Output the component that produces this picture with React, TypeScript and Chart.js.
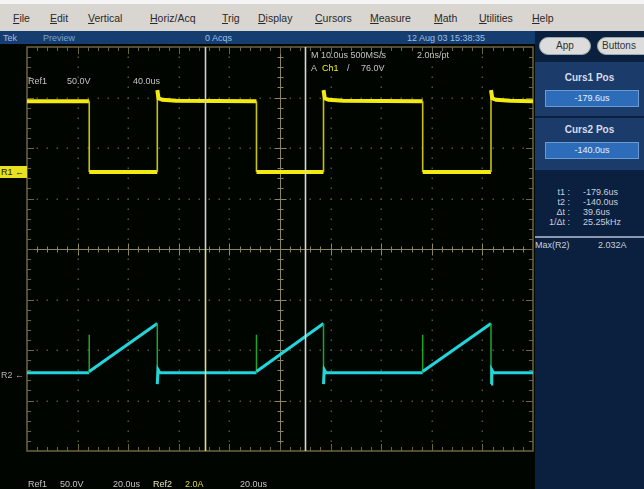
import React, { useEffect, useRef } from "react";
import { Chart, registerables } from "chart.js";

Chart.register(...registerables);

// ---- Data (physical units) ----
// Ref1: switching voltage (V), 50.0 V/div
const ref1Time = [-250, -225.4, -225.4, -198.5, -198.5, -198.0, -196.5, -191, -159.3, -159.3, -132.8, -132.8, -132.3, -130.8, -125, -93.6, -93.6, -66.6, -66.6, -66.1, -64.6, -59, -50];
const ref1Volts = [70, 70, 0, 0, 81, 73, 71.5, 70.5, 70, 0, 0, 81, 73, 71.5, 70.5, 70, 0, 0, 81, 73, 71.5, 70.5, 70];
// Ref2: inductor current (A), 2.0 A/div
const ref2Time = [-250, -225.4, -225.4, -225.4, -198.5, -198.5, -198.2, -197.5, -159.3, -159.3, -159.3, -132.8, -132.8, -132.5, -131.8, -93.6, -93.6, -93.6, -66.6, -66.6, -66.3, -65.6, -50];
const ref2Amps = [0, 0, 1.5, 0.05, 1.95, -0.45, 0.12, 0, 0, 1.5, 0.05, 1.95, -0.45, 0.12, 0, 0, 1.5, 0.05, 1.95, -0.45, 0.12, 0, 0];
// Cursor positions (us)
const cursorTimes = [-179.6, -140.0];
// Scale settings
const ref1VoltsPerDiv = 50;
const ref1OffsetDiv = 1.525;
const ref2AmpsPerDiv = 2;
const ref2OffsetDiv = -2.45;
const xMin = -250;
const xMax = -50;
const xDiv = 20;

const menuItems = ["File", "Edit", "Vertical", "Horiz/Acq", "Trig", "Display", "Cursors", "Measure", "Math", "Utilities", "Help"];
const menuX = [13, 50, 88, 150, 222, 258, 315, 370, 434, 479, 532];
const measLabels = ["t1", "t2", "\u0394t", "1/\u0394t"];
const measValues = ["-179.6us", "-140.0us", "39.6us", "25.25kHz"];

const YELLOW = "#f2ea10";
const CYAN = "#22d4dc";

const graticulePlugin = {
  id: "graticule",
  beforeDraw(chart: any) {
    const c = chart.ctx;
    c.save();
    c.fillStyle = "#000500";
    c.fillRect(0, 0, chart.width, chart.height);
    c.restore();
  },
  beforeDatasetsDraw(chart: any) {
    const c = chart.ctx;
    const xs = chart.scales.x;
    const ys = chart.scales.y;
    const L = xs.getPixelForValue(xMin);
    const R = xs.getPixelForValue(xMax);
    const T = ys.getPixelForValue(4);
    const B = ys.getPixelForValue(-4);
    c.save();
    c.fillStyle = "#56523a";
    for (let i = 1; i < 10; i++) {
      if (i === 5) continue;
      const x = Math.round(xs.getPixelForValue(xMin + i * xDiv));
      for (let k = 1; k < 40; k++) {
        const y = Math.round(ys.getPixelForValue(4 - k * 0.2));
        c.fillRect(x - 0.5, y - 0.5, 1.5, 1.5);
      }
    }
    for (let j = 1; j < 8; j++) {
      if (j === 4) continue;
      const y = Math.round(ys.getPixelForValue(-4 + j));
      for (let k = 1; k < 50; k++) {
        const x = Math.round(xs.getPixelForValue(xMin + k * xDiv / 5));
        c.fillRect(x - 0.5, y - 0.5, 1.5, 1.5);
      }
    }
    const cx = Math.round(xs.getPixelForValue((xMin + xMax) / 2)) + 0.5;
    const cy = Math.round(ys.getPixelForValue(0)) + 0.5;
    c.strokeStyle = "#8c8462";
    c.lineWidth = 1;
    c.beginPath();
    c.moveTo(L, cy); c.lineTo(R, cy);
    c.moveTo(cx, T); c.lineTo(cx, B);
    for (let k = 1; k < 50; k++) {
      const x = Math.round(xs.getPixelForValue(xMin + k * xDiv / 5)) + 0.5;
      const len = k % 5 === 0 ? 6 : 3;
      c.moveTo(x, cy - len); c.lineTo(x, cy + len);
    }
    for (let k = 1; k < 40; k++) {
      const y = Math.round(ys.getPixelForValue(4 - k * 0.2)) + 0.5;
      const len = k % 5 === 0 ? 6 : 3;
      c.moveTo(cx - len, y); c.lineTo(cx + len, y);
    }
    c.stroke();
    c.strokeStyle = "#6e6440";
    c.lineWidth = 1.5;
    c.strokeRect(L, T, R - L, B - T);
    c.lineWidth = 1;
    c.beginPath();
    for (let k = 1; k < 50; k++) {
      const x = Math.round(xs.getPixelForValue(xMin + k * xDiv / 5)) + 0.5;
      const len = k % 5 === 0 ? 7 : 4;
      c.moveTo(x, T); c.lineTo(x, T + len);
      c.moveTo(x, B); c.lineTo(x, B - len);
    }
    for (let k = 1; k < 40; k++) {
      const y = Math.round(ys.getPixelForValue(4 - k * 0.2)) + 0.5;
      const len = k % 5 === 0 ? 7 : 4;
      c.moveTo(L, y); c.lineTo(L + len, y);
      c.moveTo(R, y); c.lineTo(R - len, y);
    }
    c.stroke();
    c.restore();
  },
  afterDatasetsDraw(chart: any) {
    const c = chart.ctx;
    const xs = chart.scales.x;
    const ys = chart.scales.y;
    const T = ys.getPixelForValue(4);
    const B = ys.getPixelForValue(-4);
    const M = ys.getPixelForValue(0);
    c.save();
    c.lineWidth = 1.6;
    const x1 = Math.round(xs.getPixelForValue(cursorTimes[0])) + 0.5;
    c.strokeStyle = "#cfcfcf";
    c.beginPath(); c.moveTo(x1, T); c.lineTo(x1, M); c.stroke();
    c.strokeStyle = "#e6dc8a";
    c.beginPath(); c.moveTo(x1, M); c.lineTo(x1, B); c.stroke();
    const x2 = Math.round(xs.getPixelForValue(cursorTimes[1])) + 0.5;
    c.strokeStyle = "#d8d8d8";
    c.beginPath(); c.moveTo(x2, T); c.lineTo(x2, B); c.stroke();
    c.restore();
  },
};

function ScopeChart() {
  const ref = useRef<HTMLCanvasElement>(null);
  useEffect(() => {
    if (!ref.current) return;
    const ref1Data = ref1Time.map((t, i) => ({ x: t, y: ref1Volts[i] / ref1VoltsPerDiv + ref1OffsetDiv }));
    const ref2Data = ref2Time.map((t, i) => ({ x: t, y: ref2Amps[i] / ref2AmpsPerDiv + ref2OffsetDiv }));
    const isVert = (ctx: any) => Math.abs(ctx.p0.x - ctx.p1.x) < 0.6;
    const chart = new Chart(ref.current, {
      type: "line",
      data: {
        datasets: [
          {
            label: "Ref1",
            data: ref1Data,
            borderColor: YELLOW,
            borderWidth: 4,
            pointRadius: 0,
            tension: 0,
            segment: {
              borderColor: (ctx: any) => (isVert(ctx) ? "#c8c20a" : YELLOW),
              borderWidth: (ctx: any) => (isVert(ctx) ? 1.6 : 4),
            },
          },
          {
            label: "Ref2",
            data: ref2Data,
            borderColor: CYAN,
            borderWidth: 3,
            pointRadius: 0,
            tension: 0,
            segment: {
              borderColor: (ctx: any) => (isVert(ctx) ? "#1fa52c" : CYAN),
              borderWidth: (ctx: any) => (isVert(ctx) ? 1.5 : 3),
            },
          },
        ],
      },
      options: {
        animation: false,
        responsive: false,
        maintainAspectRatio: false,
        layout: { padding: { left: 27, top: 3, right: 2, bottom: 38 } },
        scales: {
          x: { type: "linear", min: xMin, max: xMax, display: false },
          y: { type: "linear", min: -4, max: 4, display: false },
        },
        plugins: { legend: { display: false }, tooltip: { enabled: false } },
      },
      plugins: [graticulePlugin],
    });
    return () => chart.destroy();
  }, []);
  return <canvas ref={ref} width={535} height={445} style={{ position: "absolute", left: 0, top: 44, width: 535, height: 445 }} />;
}

const abs = (left: number, top: number, extra: React.CSSProperties = {}): React.CSSProperties => ({
  position: "absolute",
  left,
  top,
  whiteSpace: "nowrap",
  ...extra,
});

export default function App() {
  const scopeFont: React.CSSProperties = { fontFamily: "'Liberation Sans', Arial, sans-serif", fontSize: 9, lineHeight: "10px", color: "#c4c4c4" };
  return (
    <div style={{ position: "fixed", left: 0, top: 0, width: 644, height: 489, overflow: "hidden", background: "#000500", fontFamily: "'Liberation Sans', Arial, sans-serif" }}>
      <div style={abs(0, 0, { width: 644, height: 31, background: "#d9d5d0", borderTop: "4px solid #f4f4f4", boxSizing: "border-box" })} />
      {menuItems.map((m, i) => (
        <span key={m} style={abs(menuX[i], 12, { fontSize: 10.5, lineHeight: "12px", color: "#2a2a2a" })}>
          <u>{m[0]}</u>{m.slice(1)}
        </span>
      ))}
      <div style={abs(0, 31, { width: 535, height: 13, background: "#163d6f" })} />
      <span style={abs(3, 33, { fontSize: 9, lineHeight: "10px", color: "#9fc0e6" })}>Tek</span>
      <span style={abs(43, 33, { fontSize: 9, lineHeight: "10px", color: "#7fa4d2" })}>Preview</span>
      <span style={abs(205, 33, { fontSize: 9, lineHeight: "10px", color: "#9fc0e6" })}>0 Acqs</span>
      <span style={abs(407, 33, { fontSize: 9, lineHeight: "10px", color: "#9fc0e6" })}>12 Aug 03 15:38:35</span>

      <ScopeChart />

      <span style={abs(28, 76, scopeFont)}>Ref1</span>
      <span style={abs(67, 76, scopeFont)}>50.0V</span>
      <span style={abs(133, 76, scopeFont)}>40.0us</span>
      <span style={abs(311, 50, scopeFont)}>M 10.0us 500MS/s</span>
      <span style={abs(417, 50, scopeFont)}>2.0ns/pt</span>
      <span style={abs(311, 63, scopeFont)}>A</span>
      <span style={abs(322, 63, { ...scopeFont, color: YELLOW })}>Ch1</span>
      <span style={abs(347, 63, scopeFont)}>/</span>
      <span style={abs(361, 63, scopeFont)}>76.0V</span>
      <span style={abs(28, 479, scopeFont)}>Ref1</span>
      <span style={abs(60, 479, scopeFont)}>50.0V</span>
      <span style={abs(113, 479, scopeFont)}>20.0us</span>
      <span style={abs(153, 479, { ...scopeFont, color: "#e8e4b0" })}>Ref2</span>
      <span style={abs(185, 479, { ...scopeFont, color: "#e2d840" })}>2.0A</span>
      <span style={abs(240, 479, scopeFont)}>20.0us</span>
      <div style={abs(0, 166, { width: 26, height: 12, background: "#e8e020", color: "#202000", fontSize: 9, lineHeight: "12px", paddingLeft: 1 })}>R1 ←</div>
      <div style={abs(0, 369, { width: 26, height: 12, color: "#b0b0b0", fontSize: 9, lineHeight: "12px", paddingLeft: 1 })}>R2 ←</div>

      <div style={abs(535, 31, { width: 109, height: 458, background: "#0b1f3f" })} />
      <div style={abs(539, 37, { width: 52, height: 18, borderRadius: 9, background: "#dcdcdc", border: "1px solid #9aa", boxSizing: "border-box", textAlign: "center", fontSize: 10, lineHeight: "16px", color: "#333" })}>App</div>
      <div style={abs(597, 37, { width: 56, height: 18, borderRadius: 9, background: "#dcdcdc", border: "1px solid #9aa", boxSizing: "border-box", paddingLeft: 4, fontSize: 10, lineHeight: "16px", color: "#333" })}>Buttons</div>
      <div style={abs(535, 62, { width: 109, height: 54, background: "#1b3b6a" })} />
      <div style={abs(535, 72, { width: 109, textAlign: "center", fontSize: 10, fontWeight: "bold", color: "#d6deea", lineHeight: "12px" })}>Curs1 Pos</div>
      <div style={abs(545, 90, { width: 94, height: 17, background: "#2c6cb8", border: "1px solid #6a9ad0", boxSizing: "border-box", textAlign: "center", fontSize: 9, lineHeight: "15px", color: "#e8f0ff" })}>-179.6us</div>
      <div style={abs(535, 118, { width: 109, height: 52, background: "#1b3b6a" })} />
      <div style={abs(535, 124, { width: 109, textAlign: "center", fontSize: 10, fontWeight: "bold", color: "#d6deea", lineHeight: "12px" })}>Curs2 Pos</div>
      <div style={abs(545, 142, { width: 94, height: 17, background: "#2c6cb8", border: "1px solid #6a9ad0", boxSizing: "border-box", textAlign: "center", fontSize: 9, lineHeight: "15px", color: "#e8f0ff" })}>-140.0us</div>
      {measLabels.map((l, i) => (
        <React.Fragment key={l}>
          <span style={abs(540, 187 + i * 10, { width: 30, textAlign: "right", fontSize: 9, lineHeight: "10px", color: "#c8d0dc" })}>{l} :</span>
          <span style={abs(583, 187 + i * 10, { fontSize: 9, lineHeight: "10px", color: "#c8d0dc" })}>{measValues[i]}</span>
        </React.Fragment>
      ))}
      <div style={abs(535, 236, { width: 109, height: 2, background: "#8a9ab4" })} />
      <span style={abs(535, 240, { fontSize: 9, lineHeight: "10px", color: "#c8d0dc" })}>Max(R2)</span>
      <span style={abs(598, 240, { fontSize: 9, lineHeight: "10px", color: "#c8d0dc" })}>2.032A</span>
    </div>
  );
}
